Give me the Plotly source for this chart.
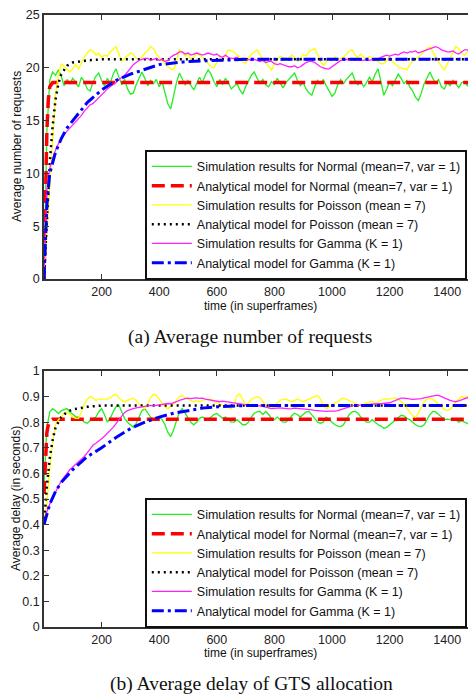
import plotly.graph_objects as go

# ---- data ----
STEP = 10  # simulation traces sampled every 10 superframes, 0..1500

req_sim_normal = [
    0, 14.0, 18.8, 19.6, 19.3, 19.8, 19.2, 18.3, 18.9, 18.5,
    19.0, 18.6, 18.2, 19.1, 18.7, 18.0, 17.8, 18.6, 19.2, 19.5,
    18.8, 18.3, 19.0, 18.5, 19.4, 19.9, 19.1, 18.4, 18.9, 18.0,
    17.5, 17.6, 18.4, 19.0, 19.6, 19.0, 18.3, 18.8, 18.5, 18.9,
    18.2, 18.7, 17.6, 16.6, 16.1, 17.4, 18.6, 19.5, 19.0, 18.4,
    18.8, 18.3, 17.9, 18.5, 19.1, 18.6, 19.3, 19.8, 19.4, 18.7,
    18.2, 18.9, 18.4, 19.0, 18.6, 18.0, 18.3, 18.5, 17.9, 17.5,
    18.2, 18.8, 19.3, 19.6, 19.0, 18.6, 18.9, 18.4, 18.2, 18.7,
    18.4, 19.0, 18.5, 18.1, 18.6, 18.9, 19.2, 19.5, 18.8, 18.3,
    18.6, 18.0, 17.6, 17.4, 18.2, 18.8, 18.5, 18.9, 18.3, 17.8,
    17.3, 17.6, 18.4, 18.9, 18.5, 18.9, 19.2, 19.5, 18.8, 18.4,
    18.7, 18.2, 18.6, 19.1, 18.7, 19.4, 19.9, 18.6, 17.4, 18.0,
    18.7, 18.3, 18.9, 19.4, 19.0, 18.5, 18.8, 18.2, 17.8, 17.2,
    16.9, 17.6, 18.5, 19.1, 19.6, 19.0, 18.6, 18.9, 18.2, 18.0,
    18.6, 18.3, 18.8, 18.5, 18.1, 18.6, 18.7, 18.3, 18.8, 18.4,
    18.6,
]
req_sim_poisson = [
    0, 4.5, 9.5, 14.0, 17.5, 19.3, 20.4, 20.1, 19.8, 19.6,
    19.9, 20.3, 19.9, 20.5, 21.0, 21.4, 21.7, 21.6, 21.2, 21.4,
    21.0, 21.2, 21.1, 21.5, 21.8, 22.0, 21.3, 20.6, 20.9, 21.2,
    21.4, 21.3, 20.9, 20.8, 21.0, 21.4, 21.6, 22.0, 21.8, 21.3,
    21.0, 20.6, 20.4, 20.1, 19.9, 19.8, 20.6, 21.7, 21.5, 21.1,
    21.3, 20.8, 21.0, 21.4, 21.2, 21.0, 20.7, 20.4, 20.1, 20.0,
    20.5, 21.0, 20.7, 21.2, 21.7, 21.6, 21.5, 21.2, 21.0, 20.6,
    20.4, 20.9, 21.3, 21.5, 21.7, 21.3, 20.8, 20.5, 20.1, 19.8,
    20.4, 20.8, 21.1, 21.0, 20.7, 20.9, 21.2, 21.0, 20.6, 20.9,
    21.3, 21.1, 21.5, 21.7, 21.8, 21.3, 20.6, 20.2, 20.5, 20.9,
    20.7, 21.0, 20.8, 20.9, 21.0, 21.3, 21.6, 21.7, 21.2, 21.0,
    21.3, 21.0, 20.8, 21.1, 20.9, 20.7, 20.6, 20.4, 20.4, 20.7,
    21.0, 20.6, 20.3, 20.1, 20.0, 19.9, 19.8, 20.3, 20.6, 20.9,
    21.0, 21.3, 21.6, 21.8, 22.0, 21.5, 21.0, 20.6, 20.1, 19.8,
    20.3, 20.9, 21.5, 22.0, 21.8, 21.4, 21.2, 21.5, 21.4, 21.6,
    21.5,
]
req_sim_gamma = [
    0, 8.5, 10.5, 11.4, 12.2, 12.8, 13.3, 13.7, 14.0, 14.3,
    14.5, 14.8, 15.1, 15.5, 15.9, 16.2, 16.5, 16.6, 16.9, 17.2,
    17.5, 17.7, 18.0, 18.2, 18.4, 18.6, 18.9, 19.1, 19.3, 19.6,
    20.0, 20.3, 20.5, 20.7, 20.8, 20.9, 20.9, 20.7, 20.8, 20.9,
    20.7, 20.8, 20.6, 20.7, 21.0, 21.2, 21.3, 21.5, 21.5, 21.3,
    21.4, 21.2, 21.3, 21.4, 21.3, 21.2, 21.3, 21.4, 21.3, 21.2,
    21.3, 21.1, 21.0, 21.2, 21.0, 20.9, 20.9, 21.0, 20.8, 20.9,
    20.7, 20.8, 20.7, 20.8, 20.7, 20.6, 20.7, 20.5, 20.6, 20.6,
    20.4, 20.3, 20.4, 20.3, 20.2, 20.1, 20.1, 20.2, 20.0, 20.1,
    20.3, 20.5, 20.6, 20.6, 20.5, 20.3, 20.1, 20.0, 19.9, 19.9,
    20.1, 20.3, 20.5, 20.7, 20.7, 20.8, 20.7, 20.8, 20.7, 20.8,
    20.7, 20.7, 20.8, 20.7, 20.8, 20.7, 20.8, 21.0, 21.1, 21.2,
    21.1, 21.2, 21.3, 21.2, 21.4, 21.5, 21.4, 21.5, 21.5, 21.6,
    21.4, 21.5, 21.6, 21.7, 21.8, 21.9, 22.0, 21.9, 21.7, 21.6,
    21.5, 21.5, 21.6, 21.4, 21.3, 21.5, 21.7, 21.7, 21.5, 21.6,
    21.5,
]

req_an_normal_t = [0, 5, 10, 15, 20, 30, 1500]
req_an_normal = [0, 8, 14, 17, 18.2, 18.6, 18.6]
req_an_poisson_t = [0, 10, 20, 30, 40, 50, 60, 80, 100, 150, 200, 1500]
req_an_poisson = [0, 6, 11, 14.5, 17, 18.5, 19.4, 20.2, 20.5, 20.7, 20.8, 20.8]
req_an_gamma_t = [0, 10, 20, 40, 60, 80, 100, 150, 200, 250, 300, 400, 500,
                  600, 700, 800, 1500]
req_an_gamma = [0, 7, 10, 12, 13.3, 14.3, 15, 16.7, 17.9, 18.8, 19.4, 20.3,
                20.6, 20.7, 20.8, 20.8, 20.8]

del_sim_normal = [
    0.55, 0.78, 0.84, 0.853, 0.845, 0.834, 0.845, 0.85, 0.853, 0.84,
    0.83, 0.822, 0.82, 0.81, 0.80, 0.796, 0.805, 0.815, 0.82, 0.84,
    0.853, 0.83, 0.80, 0.815, 0.84, 0.86, 0.866, 0.84, 0.815, 0.80,
    0.79, 0.78, 0.795, 0.82, 0.845, 0.853, 0.835, 0.82, 0.81, 0.815,
    0.82, 0.81, 0.79, 0.76, 0.744, 0.77, 0.81, 0.84, 0.853, 0.835,
    0.82, 0.80, 0.79, 0.80, 0.815, 0.82, 0.815, 0.812, 0.82, 0.83,
    0.834, 0.825, 0.815, 0.82, 0.81, 0.80, 0.80, 0.81, 0.80, 0.79,
    0.79, 0.80, 0.82, 0.835, 0.84, 0.842, 0.83, 0.842, 0.83, 0.815,
    0.81, 0.82, 0.81, 0.80, 0.80, 0.81, 0.825, 0.835, 0.83, 0.82,
    0.83, 0.84, 0.842, 0.83, 0.815, 0.80, 0.796, 0.80, 0.82, 0.81,
    0.80, 0.79, 0.785, 0.783, 0.79, 0.81, 0.83, 0.84, 0.842, 0.835,
    0.82, 0.81, 0.80, 0.80, 0.81, 0.80, 0.79, 0.785, 0.776, 0.78,
    0.79, 0.80, 0.81, 0.82, 0.827, 0.825, 0.815, 0.81, 0.80, 0.79,
    0.785, 0.783, 0.79, 0.81, 0.83, 0.842, 0.84, 0.83, 0.82, 0.81,
    0.812, 0.81, 0.815, 0.81, 0.80, 0.805, 0.80, 0.795, 0.79, 0.79,
    0.80,
]
del_sim_poisson = [
    0.42, 0.48, 0.62, 0.72, 0.79, 0.81, 0.82, 0.835, 0.84, 0.83,
    0.82, 0.815, 0.815, 0.84, 0.87, 0.89, 0.90, 0.895, 0.885, 0.89,
    0.89, 0.89, 0.89, 0.895, 0.905, 0.91, 0.895, 0.885, 0.88, 0.885,
    0.89, 0.894, 0.885, 0.87, 0.86, 0.853, 0.87, 0.895, 0.91, 0.905,
    0.89, 0.875, 0.86, 0.853, 0.86, 0.87, 0.885, 0.90, 0.905, 0.895,
    0.89, 0.885, 0.88, 0.885, 0.88, 0.885, 0.888, 0.89, 0.89, 0.88,
    0.875, 0.87, 0.865, 0.86, 0.856, 0.853, 0.87, 0.905, 0.91, 0.89,
    0.866, 0.875, 0.89, 0.895, 0.90, 0.895, 0.88, 0.865, 0.856, 0.853,
    0.86, 0.875, 0.885, 0.89, 0.89, 0.885, 0.88, 0.885, 0.89, 0.885,
    0.88, 0.885, 0.89, 0.895, 0.90, 0.905, 0.89, 0.865, 0.853, 0.86,
    0.87, 0.875, 0.88, 0.89, 0.894, 0.89, 0.885, 0.88, 0.875, 0.866,
    0.866, 0.87, 0.875, 0.88, 0.88, 0.875, 0.88, 0.885, 0.89, 0.89,
    0.89, 0.894, 0.894, 0.89, 0.88, 0.87, 0.855, 0.84, 0.825, 0.82,
    0.835, 0.86, 0.88, 0.89, 0.894, 0.89, 0.88, 0.87, 0.86, 0.85,
    0.846, 0.85, 0.865, 0.88, 0.89, 0.90, 0.895, 0.90, 0.905, 0.905,
    0.90,
]
del_sim_gamma = [
    0.40, 0.45, 0.48, 0.505, 0.53, 0.55, 0.57, 0.585, 0.60, 0.615,
    0.625, 0.635, 0.645, 0.655, 0.666, 0.68, 0.695, 0.71, 0.718, 0.725,
    0.735, 0.745, 0.755, 0.768, 0.78, 0.795, 0.81, 0.825, 0.838, 0.845,
    0.85, 0.853, 0.856, 0.858, 0.86, 0.862, 0.864, 0.866, 0.864, 0.866,
    0.868, 0.87, 0.872, 0.873, 0.872, 0.875, 0.88, 0.885, 0.89, 0.892,
    0.894, 0.892, 0.894, 0.895, 0.893, 0.894, 0.89, 0.888, 0.885, 0.882,
    0.88, 0.88, 0.882, 0.88, 0.878, 0.876, 0.875, 0.873, 0.87, 0.868,
    0.866, 0.866, 0.865, 0.866, 0.866, 0.864, 0.862, 0.86, 0.856, 0.853,
    0.853, 0.855, 0.856, 0.854, 0.853, 0.852, 0.853, 0.855, 0.854, 0.853,
    0.853, 0.852, 0.85, 0.848, 0.846, 0.845, 0.843, 0.842, 0.842, 0.843,
    0.842, 0.843, 0.845, 0.848, 0.852, 0.856, 0.86, 0.865, 0.866, 0.866,
    0.866, 0.868, 0.868, 0.87, 0.87, 0.871, 0.872, 0.872, 0.873, 0.873,
    0.876, 0.88, 0.885, 0.89, 0.894, 0.894, 0.892, 0.89, 0.889, 0.89,
    0.89, 0.892, 0.895, 0.898, 0.90, 0.903, 0.905, 0.905, 0.90, 0.893,
    0.888, 0.885, 0.882, 0.88, 0.883, 0.888, 0.893, 0.897, 0.90, 0.90,
    0.90,
]

del_an_normal_t = [0, 5, 10, 15, 20, 30, 1500]
del_an_normal = [0.52, 0.68, 0.76, 0.79, 0.805, 0.812, 0.812]
del_an_poisson_t = [0, 10, 20, 30, 40, 60, 80, 100, 150, 200, 1500]
del_an_poisson = [0.40, 0.55, 0.66, 0.73, 0.78, 0.82, 0.84, 0.85, 0.86, 0.865, 0.865]
del_an_gamma_t = [0, 10, 20, 40, 60, 80, 100, 150, 200, 250, 300, 350, 400,
                  450, 500, 550, 600, 700, 1500]
del_an_gamma = [0.40, 0.44, 0.48, 0.53, 0.565, 0.59, 0.615, 0.665, 0.70, 0.74,
                0.775, 0.80, 0.82, 0.835, 0.845, 0.855, 0.86, 0.865, 0.865]

names = [
    "Simulation results for Normal (mean=7, var = 1)",
    "Analytical model for Normal (mean=7, var = 1)",
    "Simulation results for Poisson (mean = 7)",
    "Analytical model for Poisson (mean = 7)",
    "Simulation results for Gamma (K = 1)",
    "Analytical model for Gamma (K = 1)",
]
x_ticks = [200, 400, 600, 800, 1000, 1200, 1400]

styles = [
    dict(color="#22ee22", width=1.3),
    dict(color="#ff0000", width=3.5, dash="13px,6px"),
    dict(color="#ffff00", width=1.3),
    dict(color="#000000", width=2.5, dash="2px,4px"),
    dict(color="#ff22ff", width=1.3),
    dict(color="#0000ff", width=3, dash="12px,4px,3px,4px"),
]

FONT = "Liberation Sans, Arial, sans-serif"
W, H = 476, 694
# the page body keeps its default 8px margin: place everything 8px up/left
OFF = 8


def xp(px):
    return (px - OFF) / W


def yp(py):
    return 1 - (py - OFF) / H


def sim_x(vals):
    return [STEP * i for i in range(len(vals))]


def add_panel(fig, series, xa, ya, legend):
    for name, (t, v), st in zip(names, series, styles):
        fig.add_trace(go.Scatter(
            x=t, y=v, mode="lines", name=name, line=st,
            xaxis=xa, yaxis=ya, legend=legend,
        ))


fig = go.Figure()
add_panel(fig, [
    (sim_x(req_sim_normal), req_sim_normal),
    (req_an_normal_t, req_an_normal),
    (sim_x(req_sim_poisson), req_sim_poisson),
    (req_an_poisson_t, req_an_poisson),
    (sim_x(req_sim_gamma), req_sim_gamma),
    (req_an_gamma_t, req_an_gamma),
], "x", "y", "legend")
add_panel(fig, [
    (sim_x(del_sim_normal), del_sim_normal),
    (del_an_normal_t, del_an_normal),
    (sim_x(del_sim_poisson), del_sim_poisson),
    (del_an_poisson_t, del_an_poisson),
    (sim_x(del_sim_gamma), del_sim_gamma),
    (del_an_gamma_t, del_an_gamma),
], "x2", "y2", "legend2")

axis_common = dict(
    showline=True, linecolor="#333333", linewidth=1.8, mirror="ticks",
    ticks="inside", ticklen=5, tickwidth=1.2, tickcolor="#333333",
    showgrid=False, zeroline=False,
    tickfont=dict(family=FONT, size=12.5, color="#222222"),
)
x_dom = [xp(44), xp(476)]

legend_common = dict(
    bgcolor="white", bordercolor="#111111", borderwidth=1.8,
    font=dict(family=FONT, size=12.5, color="#111111"),
    xanchor="left", yanchor="top", itemwidth=40, tracegroupgap=0,
)

fig.update_layout(
    width=W, height=H,
    margin=dict(l=0, r=0, t=0, b=0, autoexpand=False),
    paper_bgcolor="white", plot_bgcolor="white",
    xaxis=dict(domain=x_dom, range=[0, 1500], tickvals=x_ticks,
               anchor="y", **axis_common),
    yaxis=dict(domain=[yp(279), yp(15)], range=[0, 25],
               tickvals=[0, 5, 10, 15, 20, 25], anchor="x", **axis_common),
    xaxis2=dict(domain=x_dom, range=[0, 1500], tickvals=x_ticks,
                anchor="y2", **axis_common),
    yaxis2=dict(domain=[yp(627), yp(371)], range=[0, 1],
                tickvals=[i / 10 for i in range(11)],
                ticktext=["0", "0.1", "0.2", "0.3", "0.4", "0.5", "0.6",
                          "0.7", "0.8", "0.9", "1"],
                anchor="x2", **axis_common),
    legend=dict(x=xp(145), y=yp(150), **legend_common),
    legend2=dict(x=xp(145), y=yp(498), **legend_common),
)

txt = dict(family=FONT, size=12, color="#111111")
cap = dict(family="Liberation Serif, Times New Roman, serif", size=19.5,
           color="#111111")
annos = [
    ("time (in superframes)", 260, 306, 0, txt),
    ("time (in superframes)", 260, 653, 0, txt),
    ("Average number of requests", 17, 147, -90, txt),
    ("Average delay (in seconds)", 16, 499, -90, txt),
    ("(a) Average number of requests", 250, 337, 0, cap),
    ("(b) Average delay of GTS allocation", 252, 684, 0, cap),
]
for text, px, py, ang, f in annos:
    fig.add_annotation(
        text=text, x=xp(px), y=yp(py), xref="paper", yref="paper",
        xanchor="center", yanchor="middle", showarrow=False,
        textangle=ang, font=f,
    )

fig.write_html("out.html")
